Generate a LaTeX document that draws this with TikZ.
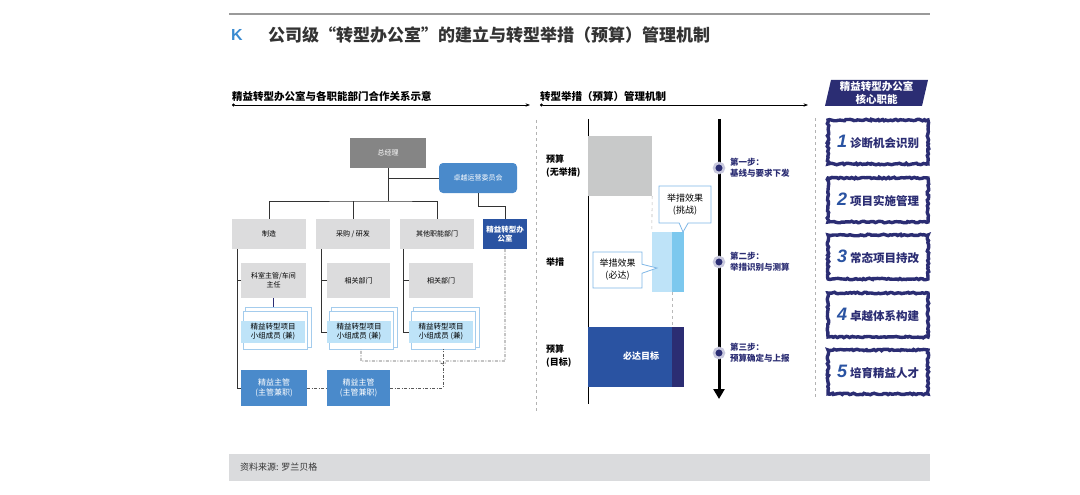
\documentclass[tikz,border=0pt]{standalone}
\usepackage{fontspec}
\setmainfont{Noto Sans CJK SC}
\newfontfamily\numfont{Liberation Sans}
\usetikzlibrary{arrows.meta, positioning, calc, shapes.callouts, decorations.pathmorphing}
\definecolor{navy}{HTML}{2B2D73}
\definecolor{deepblue}{HTML}{2A53A2}
\definecolor{midblue}{HTML}{4A8ACB}
\definecolor{paleblue}{HTML}{BEE3F8}
\definecolor{skyblue}{HTML}{7CC8EE}
\definecolor{boxgray}{HTML}{DCDCDD}
\definecolor{gmgray}{HTML}{858585}
\definecolor{blockgray}{HTML}{C8C9C9}
\definecolor{edgeblue}{HTML}{7DB6E6}
\definecolor{darktext}{HTML}{333333}
\definecolor{kblue}{HTML}{3A8BD1}
\definecolor{rulegray}{HTML}{9A9A9A}
\definecolor{footgray}{HTML}{DADBDD}
\definecolor{halo}{HTML}{C9C9DE}
\newcommand{\corenum}[1]{{\color{deepblue}\numfont\fontsize{18}{18}\selectfont\bfseries\itshape #1}}

\begin{document}
\pgfmathsetseed{12}
\begin{tikzpicture}[x=1pt, y=-1pt,
    smallfont/.style={font=\fontsize{7}{9}\selectfont},
    orgbox/.style={rectangle, fill=#1, align=center, inner sep=1pt,
                   minimum width=74pt, minimum height=30pt, smallfont},
    teamback/.style={rectangle, draw=edgeblue!70, fill=white, line width=0.6pt,
                     minimum width=64pt, inner sep=0pt},
    teambox/.style={rectangle, fill=paleblue, align=center, inner sep=0pt,
                    minimum width=64pt, minimum height=22pt,
                    font=\fontsize{7.5}{9}\selectfont, text=black},
    leadbox/.style={rectangle, fill=midblue, text=white, align=center,
                    minimum height=36pt, inner sep=0pt,
                    font=\fontsize{8}{10}\selectfont},
    orgline/.style={draw=darktext, line width=0.7pt},
    linkdash/.style={draw=black!65, line width=0.8pt,
                     dash pattern=on 3pt off 1.5pt on 1pt off 1.5pt},
    head/.style={anchor=west, inner sep=0pt, text=black,
                 font=\fontsize{10.5}{12}\selectfont\bfseries},
    secline/.style={line width=0.7pt, {Circle[length=3pt]}-{Stealth[length=4.5pt]}},
    sepline/.style={draw=gray!60, dashed, line width=0.6pt},
    rowlbl/.style={anchor=west, inner sep=0pt, align=left, text=black,
                   font=\fontsize{9}{13}\selectfont\bfseries},
    bar/.style={rectangle, fill=#1, inner sep=0pt},
    guide/.style={draw=gray!55, dashed, line width=0.6pt},
    callbox/.style={rectangle callout, draw=edgeblue, fill=white, line width=0.8pt,
                    callout pointer width=9pt, align=center, inner sep=0pt,
                    font=\fontsize{9}{12}\selectfont, text=black},
    stepdot/.style={circle, fill=navy, draw=halo, line width=2.5pt,
                    minimum size=10pt, inner sep=0pt},
    steplbl/.style={anchor=west, inner sep=0pt, align=left, text=navy,
                    font=\fontsize{8.5}{11}\selectfont\bfseries},
    corebox/.style={rectangle, fill=white, draw=navy, line width=3.4pt,
                    decorate, decoration={random steps, segment length=2pt, amplitude=0.8pt},
                    minimum width=100pt, minimum height=44pt, text=navy,
                    font=\fontsize{11.5}{12}\selectfont\bfseries}
]
\useasboundingbox (0,0) rectangle (1080,495);

% title
\draw[rulegray, line width=2pt] (229,14) -- (930,14);
\node[anchor=west, inner sep=0pt, text=kblue, font=\numfont\fontsize{16}{16}\selectfont\bfseries] (k) at (231,35) {K};
\node[anchor=west, inner sep=0pt, text=darktext, font=\fontsize{17}{18}\selectfont\bfseries] (title) at (268,35) {公司级“转型办公室”的建立与转型举措（预算）管理机制};

% section heads
\node[head] (h1) at (232,96) {精益转型办公室与各职能部门合作关系示意};
\node[head] (h2) at (540,96) {转型举措（预算）管理机制};
\draw[secline] (232,105) -- (530,105);
\draw[secline] (540,105) -- (808,105);
\fill[navy] (831,80) -- (928,80) -- (922,106) -- (825,106) -- cycle;
\node[align=center, inner sep=0pt, text=white, font=\fontsize{10.5}{12.5}\selectfont\bfseries] (h3) at (876.5,93) {精益转型办公室\\核心职能};
\draw[sepline] (536,120) -- (536,413);
\draw[sepline] (815,118) -- (815,398);

% org chart
\node[orgbox=gmgray, text=white, minimum width=76pt] (gm) at (388,153) {总经理};
\node[orgbox=midblue, text=white, rounded corners=4pt, minimum width=78pt] (com) at (478,178) {卓越运营委员会};
\node[orgbox=boxgray] (mfg) at (269,234) {制造};
\node[orgbox=boxgray] (pur) at (353,234) {采购 / 研发};
\node[orgbox=boxgray] (oth) at (437,234) {其他职能部门};
\node[orgbox=deepblue, text=white, minimum width=44pt, font=\fontsize{7.5}{9.5}\selectfont\bfseries] (lto) at (505,234) {精益转型办\\公室};

\node[orgbox=boxgray, minimum width=65pt, minimum height=35pt] (sup1) at (273.5,280.5) {科室主管/车间\\主任};
\node[orgbox=boxgray, minimum width=63pt, minimum height=35pt] (rel2) at (358.5,280.5) {相关部门};
\node[orgbox=boxgray, minimum width=64pt, minimum height=35pt] (rel3) at (441,280.5) {相关部门};

\node[teamback, minimum width=66pt, minimum height=40pt] (t1a) at (278,327) {};
\node[teamback, minimum height=38pt] (t1b) at (275,330) {};
\node[teambox] (team1) at (273,332) {精益转型项目\\小组成员 (兼)};
\node[teamback, minimum width=66pt, minimum height=40pt] (t2a) at (364,327) {};
\node[teamback, minimum height=38pt] (t2b) at (361,330) {};
\node[teambox] (team2) at (359,332) {精益转型项目\\小组成员 (兼)};
\node[teamback, minimum width=66pt, minimum height=40pt] (t3a) at (446,327) {};
\node[teamback, minimum height=38pt] (t3b) at (443,330) {};
\node[teambox] (team3) at (441,332) {精益转型项目\\小组成员 (兼)};

\node[leadbox, minimum width=66pt] (lead1) at (274,388) {精益主管\\(主管兼职)};
\node[leadbox, minimum width=63pt] (lead2) at (358.5,388) {精益主管\\(主管兼职)};

\coordinate (bus) at (388,201);
\coordinate (d1) at (237,249);
\coordinate (d2) at (321,249);
\coordinate (d3) at (403,249);
\coordinate (hopy) at (0,361);

\draw[orgline] (gm.south) -- (bus);
\draw[orgline] (mfg.north) |- (bus) -| (oth.north);
\draw[orgline] (pur.north) -- (pur.north |- bus);
\draw[orgline] (gm.south |- com.west) -- (com.west);
\draw[orgline] (com.south) -- ++(0,13) -| (lto.north);
\draw[orgline] (d1) |- (lead1.west);
\draw[orgline] (d1 |- sup1.west) -- (sup1.west);
\draw[orgline] (d2) |- (team2.west);
\draw[orgline] (d2 |- rel2.west) -- (rel2.west);
\draw[orgline] (d3) |- (team3.west);
\draw[orgline] (d3 |- rel3.west) -- (rel3.west);
\draw[navy, line width=1.5pt] (sup1.south) -- (sup1.south |- t1a.north);

% dotted links to the office
\draw[linkdash] (lto.south) -- (lto.south |- hopy)
    -- ($(t3b.south |- hopy)+(3,0)$) arc[start angle=0, end angle=-180, radius=3pt]
    -| (t2b.south);
\draw[linkdash] (lead1.east) -- (lead2.west);
\draw[linkdash] (lead2.east) -| (t3b.south);

% budget mechanism
\node[rowlbl] (r1) at (546,166.5) {预算\\(无举措)};
\node[rowlbl] (r2) at (546,262) {举措};
\node[rowlbl] (r3) at (546,356.5) {预算\\(目标)};
\draw[black, line width=0.8pt] (588,119) -- (588,404);

\node[bar=blockgray, minimum width=64pt, minimum height=60pt] (base) at (620,166) {};
\node[bar=paleblue, minimum width=20pt, minimum height=60pt] (must) at (662,262) {};
\node[bar=skyblue, minimum width=12pt, minimum height=60pt] (chal) at (678,262) {};
\node[bar=deepblue, minimum width=84pt, minimum height=60pt] (tgt) at (630,357) {};
\node[bar=navy, minimum width=12pt, minimum height=60pt] (tgtx) at (678,357) {};
\node[text=white, inner sep=0pt, font=\fontsize{9}{11}\selectfont\bfseries] (tgtlbl) at (641,356) {必达目标};
\draw[guide] (base.south east) -- (must.north west);
\draw[guide] (must.south east) -- (tgt.north east);

\node[callbox, minimum width=52pt, minimum height=37pt, callout absolute pointer={(683,232)}] (cchal) at (685,204.5) {举措效果\\(挑战)};
\node[callbox, minimum width=49pt, minimum height=36pt, callout absolute pointer={(657,268)}] (cmust) at (617.5,270) {举措效果\\(必达)};

% timeline
\coordinate (tltop) at (719,119);
\coordinate (tlbot) at (719,399);
\draw[line width=3pt, -{Triangle[length=10pt, width=11pt]}] (tltop) -- (tlbot);
\node[stepdot] (s1) at (719,168) {};
\node[stepdot] (s2) at (719,262) {};
\node[stepdot] (s3) at (719,353) {};
\node[steplbl] (l1) at (730,167.5) {第一步：\\基线与要求下发};
\node[steplbl] (l2) at (730,261.5) {第二步：\\举措识别与测算};
\node[steplbl] (l3) at (730,352.5) {第三步：\\预算确定与上报};

% core functions
\node[corebox] (c1) at (878,142) {\corenum{1}\hspace{3pt}诊断机会识别};
\node[corebox] (c2) at (878,200) {\corenum{2}\hspace{3pt}项目实施管理};
\node[corebox] (c3) at (878,257) {\corenum{3}\hspace{3pt}常态项目持改};
\node[corebox] (c4) at (878,315) {\corenum{4}\hspace{3pt}卓越体系构建};
\node[corebox] (c5) at (878,372) {\corenum{5}\hspace{3pt}培育精益人才};

% source
\fill[footgray] (229,454) rectangle (930,481);
\node[anchor=west, inner sep=0pt, text=darktext, font=\fontsize{9}{11}\selectfont] (src) at (240,467.5) {资料来源: 罗兰贝格};

\end{tikzpicture}
\end{document}
